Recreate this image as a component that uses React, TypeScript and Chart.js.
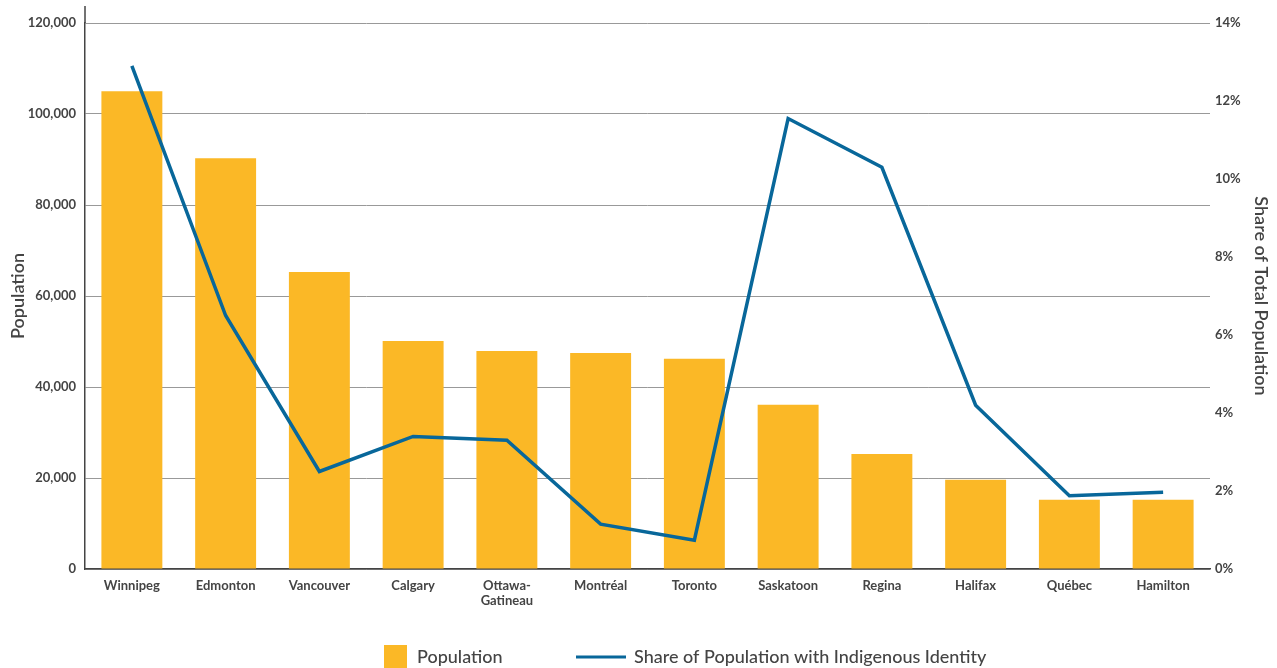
import React, { useEffect, useRef } from "react";
import { Chart, registerables } from "chart.js";

Chart.register(...registerables);

const cities = [
  "Winnipeg",
  "Edmonton",
  "Vancouver",
  "Calgary",
  ["Ottawa-", "Gatineau"],
  "Montréal",
  "Toronto",
  "Saskatoon",
  "Regina",
  "Halifax",
  "Québec",
  "Hamilton",
];
const population = [105000, 90300, 65300, 50100, 47900, 47500, 46200, 36100, 25300, 19600, 15200, 15200];
const indigenousShare = [12.9, 6.5, 2.5, 3.4, 3.3, 1.15, 0.74, 11.55, 10.3, 4.2, 1.88, 1.97];
const populationTicks = { min: 0, max: 120000, step: 20000 };
const shareTicks = { min: 0, max: 14, step: 2 };

const BAR_COLOR = "#FBB826";
const LINE_COLOR = "#08679A";
const TEXT = "#444444";
const FONT = "Lato, 'Noto Sans', sans-serif";

const legendPlugin = {
  id: "customLegend",
  afterDraw(chart: any) {
    const ctx = chart.ctx;
    const ds = chart.data.datasets;
    ctx.save();
    ctx.font = `500 18px ${FONT}`;
    ctx.textBaseline = "middle";
    const cy = 657;
    // bar item
    ctx.fillStyle = ds[0].backgroundColor;
    ctx.fillRect(384, 645, 23, 24);
    ctx.fillStyle = TEXT;
    ctx.fillText(ds[0].label, 417, cy);
    // line item
    ctx.strokeStyle = ds[1].borderColor;
    ctx.lineWidth = 3;
    ctx.beginPath();
    ctx.moveTo(576, cy);
    ctx.lineTo(626, cy);
    ctx.stroke();
    ctx.fillText(ds[1].label, 634, cy);
    // left axis extension above top gridline
    const y = chart.scales.y;
    ctx.strokeStyle = TEXT;
    ctx.lineWidth = 1.5;
    ctx.beginPath();
    ctx.moveTo(y.right, 6);
    ctx.lineTo(y.right, chart.chartArea.top);
    ctx.stroke();
    ctx.restore();
  },
};

export default function App() {
  const ref = useRef<HTMLCanvasElement>(null);
  useEffect(() => {
    document.body.style.margin = "0";
    const chart = new Chart(ref.current!, {
      type: "bar",
      data: {
        labels: cities as any,
        datasets: [
          {
            type: "bar",
            label: "Population",
            data: population,
            backgroundColor: BAR_COLOR,
            yAxisID: "y",
            order: 1,
            barPercentage: 0.65,
            categoryPercentage: 1,
          },
          {
            type: "line",
            label: "Share of Population with Indigenous Identity",
            data: indigenousShare,
            borderColor: LINE_COLOR,
            backgroundColor: LINE_COLOR,
            borderWidth: 3.5,
            pointRadius: 0,
            tension: 0,
            yAxisID: "y1",
            order: 0,
          } as any,
        ],
      },
      plugins: [legendPlugin],
      options: {
        animation: false,
        responsive: false,
        maintainAspectRatio: false,
        layout: { padding: { top: 23, left: 0, right: 0, bottom: 0 } },
        plugins: {
          legend: { display: false },
          tooltip: { enabled: false },
        },
        scales: {
          x: {
            grid: { display: false },
            border: { color: TEXT, width: 1.5 },
            ticks: {
              color: TEXT,
              font: { family: FONT, size: 13, weight: "bold", lineHeight: 1.15 },
              maxRotation: 0,
              autoSkip: false,
              padding: 1,
            },
            afterFit(scale: any) {
              scale.height = 668 - 569;
            },
          },
          y: {
            position: "left",
            min: populationTicks.min,
            max: populationTicks.max,
            ticks: {
              stepSize: populationTicks.step,
              color: TEXT,
              font: { family: FONT, size: 13, weight: "bold" },
              padding: 9,
              callback: (v: any) => Number(v).toLocaleString("en-US"),
            },
            grid: { color: "#999999", lineWidth: 1, drawTicks: false },
            border: { color: TEXT, width: 1.5 },
            title: {
              display: true,
              text: "Population",
              color: TEXT,
              font: { family: FONT, size: 18, weight: "600" },
              padding: { top: 7, bottom: 0 },
            },
            afterFit(scale: any) {
              scale.width = 85;
            },
          },
          y1: {
            position: "right",
            min: shareTicks.min,
            max: shareTicks.max,
            ticks: {
              stepSize: shareTicks.step,
              color: TEXT,
              font: { family: FONT, size: 13, weight: "bold" },
              padding: 5,
              callback: (v: any) => `${v}%`,
            },
            grid: { display: false, drawTicks: false },
            border: { display: false },
            title: {
              display: true,
              text: "Share of Total Population",
              color: TEXT,
              font: { family: FONT, size: 18, weight: "600" },
              padding: { top: 5, bottom: 0 },
            },
            afterFit(scale: any) {
              scale.width = 67;
            },
          },
        },
      },
    });
    return () => chart.destroy();
  }, []);
  return (
    <div style={{ width: 1277, height: 668 }}>
      <canvas ref={ref} width={1277} height={668} style={{ display: "block" }} />
    </div>
  );
}
